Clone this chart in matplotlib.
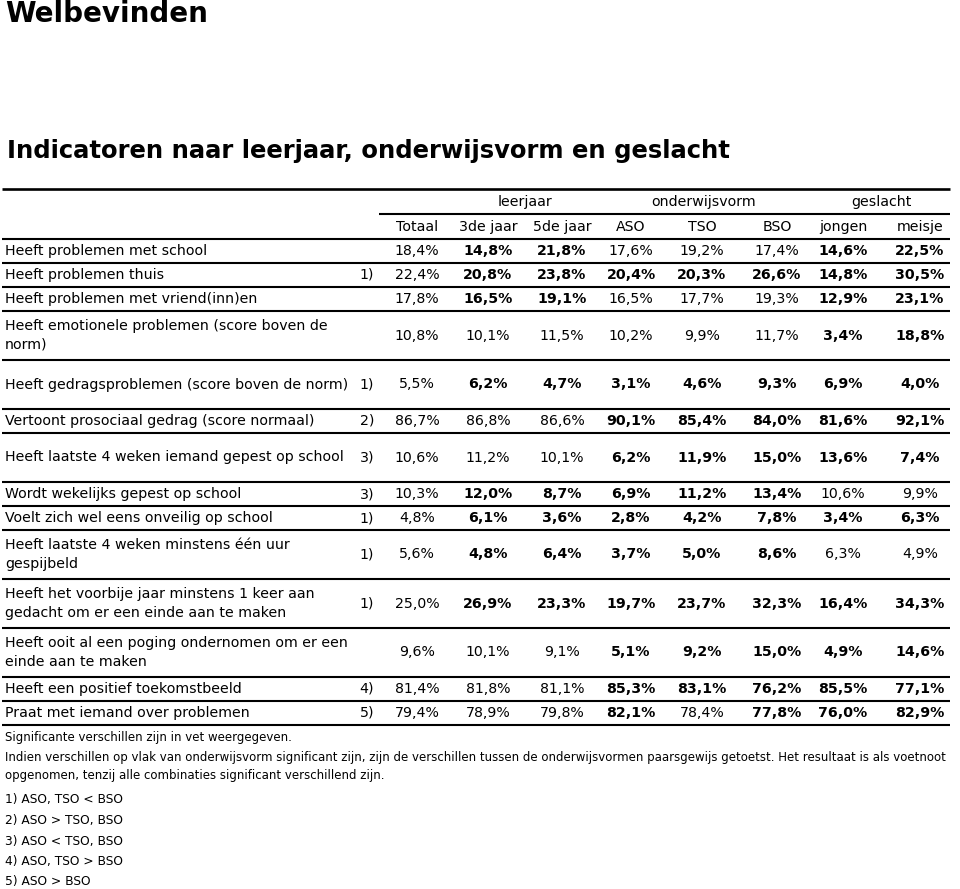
import matplotlib
matplotlib.use("Agg")
import matplotlib.pyplot as plt

# column headers
groups = ["leerjaar", "onderwijsvorm", "geslacht"]
group_cols = [(1, 2), (3, 5), (6, 7)]
columns = ["Totaal", "3de jaar", "5de jaar", "ASO", "TSO", "BSO", "jongen", "meisje"]

# row labels, footnote marks and values
labels = [
    "Heeft problemen met school",
    "Heeft problemen thuis",
    "Heeft problemen met vriend(inn)en",
    "Heeft emotionele problemen (score boven de\nnorm)",
    "Heeft gedragsproblemen (score boven de norm)",
    "Vertoont prosociaal gedrag (score normaal)",
    "Heeft laatste 4 weken iemand gepest op school",
    "Wordt wekelijks gepest op school",
    "Voelt zich wel eens onveilig op school",
    "Heeft laatste 4 weken minstens één uur\ngespijbeld",
    "Heeft het voorbije jaar minstens 1 keer aan\ngedacht om er een einde aan te maken",
    "Heeft ooit al een poging ondernomen om er een\neinde aan te maken",
    "Heeft een positief toekomstbeeld",
    "Praat met iemand over problemen",
]
notes = ["", "1)", "", "", "1)", "2)", "3)", "3)", "1)", "1)", "1)", "", "4)", "5)"]
values = [
    [18.4, 14.8, 21.8, 17.6, 19.2, 17.4, 14.6, 22.5],
    [22.4, 20.8, 23.8, 20.4, 20.3, 26.6, 14.8, 30.5],
    [17.8, 16.5, 19.1, 16.5, 17.7, 19.3, 12.9, 23.1],
    [10.8, 10.1, 11.5, 10.2, 9.9, 11.7, 3.4, 18.8],
    [5.5, 6.2, 4.7, 3.1, 4.6, 9.3, 6.9, 4.0],
    [86.7, 86.8, 86.6, 90.1, 85.4, 84.0, 81.6, 92.1],
    [10.6, 11.2, 10.1, 6.2, 11.9, 15.0, 13.6, 7.4],
    [10.3, 12.0, 8.7, 6.9, 11.2, 13.4, 10.6, 9.9],
    [4.8, 6.1, 3.6, 2.8, 4.2, 7.8, 3.4, 6.3],
    [5.6, 4.8, 6.4, 3.7, 5.0, 8.6, 6.3, 4.9],
    [25.0, 26.9, 23.3, 19.7, 23.7, 32.3, 16.4, 34.3],
    [9.6, 10.1, 9.1, 5.1, 9.2, 15.0, 4.9, 14.6],
    [81.4, 81.8, 81.1, 85.3, 83.1, 76.2, 85.5, 77.1],
    [79.4, 78.9, 79.8, 82.1, 78.4, 77.8, 76.0, 82.9],
]
# 1 = significant (shown in bold)
significant = [
    [0, 1, 1, 0, 0, 0, 1, 1],
    [0, 1, 1, 1, 1, 1, 1, 1],
    [0, 1, 1, 0, 0, 0, 1, 1],
    [0, 0, 0, 0, 0, 0, 1, 1],
    [0, 1, 1, 1, 1, 1, 1, 1],
    [0, 0, 0, 1, 1, 1, 1, 1],
    [0, 0, 0, 1, 1, 1, 1, 1],
    [0, 1, 1, 1, 1, 1, 0, 0],
    [0, 1, 1, 1, 1, 1, 1, 1],
    [0, 1, 1, 1, 1, 1, 0, 0],
    [0, 1, 1, 1, 1, 1, 1, 1],
    [0, 0, 0, 1, 1, 1, 1, 1],
    [0, 0, 0, 1, 1, 1, 1, 1],
    [0, 0, 0, 1, 0, 1, 1, 1],
]
tall_rows = [3, 4, 6, 9, 10, 11]

footer = [
    "Significante verschillen zijn in vet weergegeven.",
    "Indien verschillen op vlak van onderwijsvorm significant zijn, zijn de verschillen tussen de onderwijsvormen paarsgewijs getoetst. Het resultaat is als voetnoot",
    "opgenomen, tenzij alle combinaties significant verschillend zijn.",
]
legend = ["1) ASO, TSO < BSO", "2) ASO > TSO, BSO", "3) ASO < TSO, BSO",
          "4) ASO, TSO > BSO", "5) ASO > BSO"]

# layout (pixels)
W, H = 960, 889
col_x = [417, 488, 562, 631, 702, 777, 843, 920]
note_x = 367
left, right = 2, 950
size = 10.2
lw = 1.5

plt.rcParams['font.family'] = ['DejaVu Sans']
fig = plt.figure(figsize=(W / 100, H / 100), dpi=100)
ax = fig.add_axes([0, 0, 1, 1])
ax.set_xlim(0, W)
ax.set_ylim(H, 0)
ax.axis('off')

ax.text(5, 14, "Welbevinden", fontsize=20, fontweight='bold', va='center')
ax.text(7, 151, "Indicatoren naar leerjaar, onderwijsvorm en geslacht",
        fontsize=17.5, fontweight='bold', va='center')

top = 189
ax.hlines(top, left, right, color='black', lw=lw + 0.4)
for g, (a, b) in zip(groups, group_cols):
    ax.text((col_x[a] + col_x[b]) / 2, 202, g, fontsize=size, ha='center', va='center')
ax.hlines(214, 379, right, color='black', lw=lw)
for name, x in zip(columns, col_x):
    ax.text(x, 227, name, fontsize=size, ha='center', va='center')

y = 239
ax.hlines(y, left, right, color='black', lw=lw)
for i, label in enumerate(labels):
    h = 49 if i in tall_rows else 24
    yc = y + h / 2
    ax.text(5, yc, label, fontsize=size, va='center', linespacing=1.45)
    if notes[i]:
        ax.text(note_x, yc, notes[i], fontsize=size, ha='center', va='center')
    for j, v in enumerate(values[i]):
        txt = f"{v:.1f}%".replace('.', ',')
        ax.text(col_x[j], yc, txt, fontsize=size, ha='center', va='center',
                fontweight='bold' if significant[i][j] else 'normal')
    y += h
    ax.hlines(y, left, right, color='black', lw=lw)

# footer text; shrink the long line so it fits within the table width
renderer = fig.canvas.get_renderer()
fy = [737, 757, 776]
for t, yy in zip(footer, fy):
    tx = ax.text(5, yy, t, fontsize=8.5, va='center')
    width = tx.get_window_extent(renderer).width
    if width > right - 5:
        tx.set_fontsize(8.5 * (right - 5) / width)
for k, t in enumerate(legend):
    ax.text(5, 800 + k * 20.5, t, fontsize=8.8, va='center')

fig.savefig("out.png", dpi=100, facecolor='white')
